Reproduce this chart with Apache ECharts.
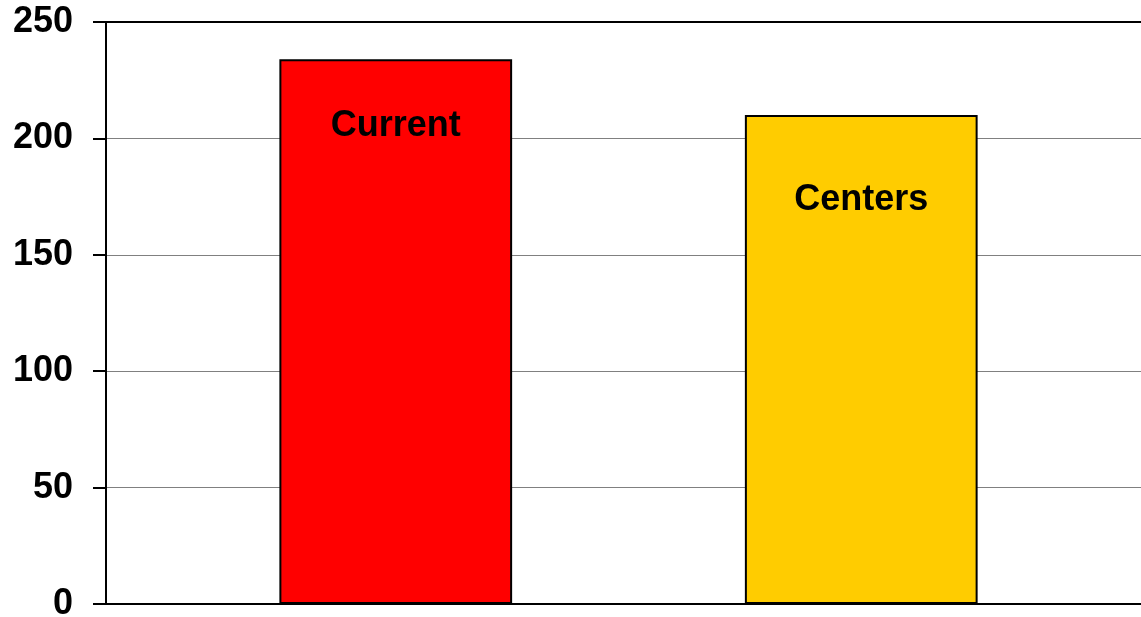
<!DOCTYPE html>
<html>
<head>
<meta charset="utf-8">
<style>
    html, body { margin: 0; padding: 0; background: #fff; }
    #chart { width: 1141px; height: 617px; }
</style>
<script src="https://cdn.jsdelivr.net/npm/echarts@6/dist/echarts.min.js"></script>
</head>
<body>
<div id="chart"></div>
<script>
// 数据
const categories = ['Current', 'Centers'];
const values = [234, 210];
const barColors = ['#ff0000', '#ffcc00'];
const labelDistances = [49, 67];

const yMin = 0;
const yMax = 250;
const yStep = 50;

const chart = echarts.init(document.getElementById('chart'));

const font = '"Liberation Sans", Arial, sans-serif';

// 柱子数据
const barData = values.map(function(v, i) {
    return {
        value: v,
        itemStyle: { color: barColors[i] },
        label: { distance: labelDistances[i] }
    };
});

const option = {
    backgroundColor: '#fff',
    animation: false,
    grid: [
        { left: 106, right: -5, top: 22, bottom: 13, outerBoundsMode: 'none', containLabel: false },
        { left: 163, right: 47, top: 22, bottom: 13, outerBoundsMode: 'none', containLabel: false }
    ],
    xAxis: [
        {
            gridIndex: 0,
            type: 'value',
            min: 0,
            max: 1,
            position: 'bottom',
            axisLine: { show: true, onZero: false, lineStyle: { color: '#000', width: 2 } },
            axisTick: { show: false },
            axisLabel: { show: false },
            splitLine: { show: false }
        },
        {
            gridIndex: 0,
            type: 'value',
            min: 0,
            max: 1,
            position: 'top',
            axisLine: { show: true, onZero: false, lineStyle: { color: '#000', width: 2 } },
            axisTick: { show: false },
            axisLabel: { show: false },
            splitLine: { show: false }
        },
        {
            gridIndex: 1,
            type: 'category',
            data: categories,
            show: false
        }
    ],
    yAxis: [
        {
            gridIndex: 0,
            type: 'value',
            min: yMin,
            max: yMax,
            interval: yStep,
            axisLine: { show: true, lineStyle: { color: '#000', width: 2 } },
            axisTick: { show: true, inside: false, length: 13, lineStyle: { color: '#000', width: 2 } },
            axisLabel: {
                margin: 33,
                color: '#000',
                fontSize: 36,
                fontWeight: 'bold',
                fontFamily: font
            },
            splitLine: { show: true, lineStyle: { color: '#808080', width: 1 } }
        },
        {
            gridIndex: 1,
            type: 'value',
            min: yMin,
            max: yMax,
            interval: yStep,
            show: false,
            splitLine: { show: false }
        }
    ],
    series: [
        {
            type: 'bar',
            xAxisIndex: 2,
            yAxisIndex: 1,
            barWidth: '50%',
            data: barData,
            itemStyle: {
                borderColor: '#000',
                borderWidth: 2
            },
            label: {
                show: true,
                position: 'insideTop',
                formatter: function(p) { return p.name; },
                color: '#000',
                fontSize: 36,
                fontWeight: 'bold',
                fontFamily: font
            }
        }
    ]
};

chart.setOption(option);
</script>
</body>
</html>
